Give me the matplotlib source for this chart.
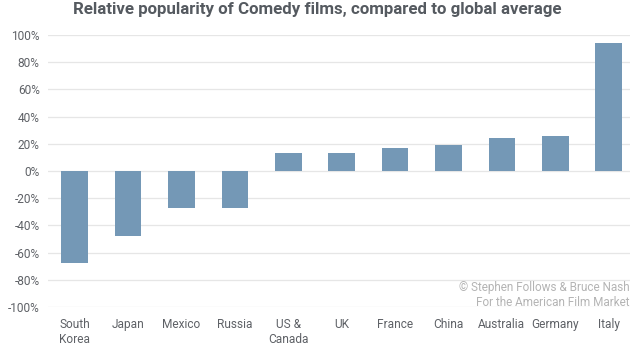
import matplotlib
matplotlib.use("Agg")
import matplotlib.pyplot as plt
from matplotlib.ticker import FuncFormatter

countries = ["South\nKorea", "Japan", "Mexico", "Russia", "US &\nCanada", "UK",
             "France", "China", "Australia", "Germany", "Italy"]
popularity = [-68, -48, -27, -27, 13, 13, 17, 19, 24, 26, 94]
yticks = list(range(-100, 101, 20))

C_BAR, C_TEXT, C_TICK, C_GRID, C_NOTE = "#7498b6", "#555a60", "#5e6166", "#e6e6e6", "#b4b4b4"

plt.rcParams["font.family"] = ["Roboto", "DejaVu Sans"]

fig = plt.figure(figsize=(6.4, 3.53), dpi=100)
ax = fig.add_axes([48 / 640, 1 - 307 / 353, 582 / 640, 272 / 353])

x = range(len(countries))
ax.bar(x, popularity, width=0.5, color=C_BAR, zorder=2)

ax.set_ylim(-100, 100)
ax.set_xlim(-0.5, 10.4)
ax.set_yticks(yticks)
ax.yaxis.set_major_formatter(FuncFormatter(lambda v, _: f"{v:.0f}%"))
ax.grid(axis="y", color=C_GRID, lw=0.9, zorder=0)
ax.set_xticks(list(x))
ax.set_xticklabels(countries, ha="center", va="top")
for s in ax.spines.values():
    s.set_visible(False)
ax.tick_params(length=0, colors=C_TICK, labelsize=8.6)
ax.tick_params(axis="x", pad=8)
ax.tick_params(axis="y", pad=6)

fig.text(0.495, 0.972, "Relative popularity of Comedy films, compared to global average",
         ha="center", va="center", fontsize=12.2, fontweight="bold", color=C_TEXT)
fig.text(630 / 640, 1 - 287 / 353, "© Stephen Follows & Bruce Nash",
         ha="right", va="center", fontsize=8.5, color=C_NOTE)
fig.text(630 / 640, 1 - 302 / 353, "For the American Film Market",
         ha="right", va="center", fontsize=8.5, color=C_NOTE)

fig.savefig("out.png", dpi=100, facecolor="white")
